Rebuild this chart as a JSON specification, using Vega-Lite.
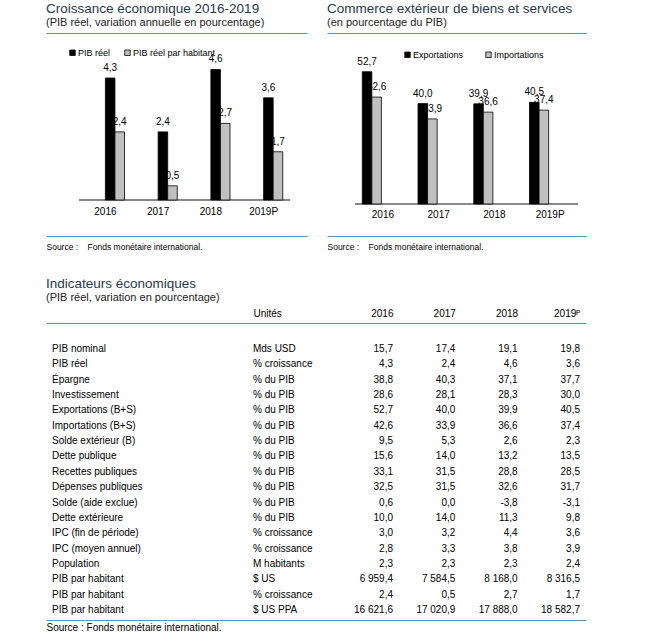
{
  "$schema": "https://vega.github.io/schema/vega-lite/v6.json",
  "padding": {"left": 46, "top": 1, "right": 0, "bottom": 0},
  "background": "white",
  "config": {
    "view": {"stroke": null},
    "font": "Liberation Sans",
    "locale": {"number": {"decimal": ",", "thousands": " ", "grouping": [3], "currency": ["", ""], "minus": "-"}},
    "title": {"font": "Liberation Sans", "fontSize": 13.5, "fontWeight": "normal", "color": "#1f3a4d", "anchor": "start", "frame": "group", "offset": 5},
    "axis": {"labelFont": "Liberation Sans", "titleFont": "Liberation Sans", "labelColor": "#000000", "titleColor": "#000000", "grid": false, "ticks": false, "domainColor": "#41A0C8", "domainWidth": 1.2, "titleFontWeight": "normal", "labelAngle": 0},
    "legend": {"labelFont": "Liberation Sans", "labelColor": "#000000"},
    "text": {"font": "Liberation Sans", "color": "#000000"}
  },
  "spacing": 25,
  "vconcat": [
    {
      "spacing": 20,
      "resolve": {"scale": {"color": "independent"}},
      "hconcat": [
        {
          "width": 261,
          "height": 203,
          "title": {"text": "Croissance économique 2016-2019", "subtitle": "(PIB réel, variation annuelle en pourcentage)", "subtitleFont": "Liberation Sans", "subtitleFontSize": 11, "subtitleColor": "#222222", "subtitlePadding": 2},
          "data": {"values": [
            {"annee": "2016", "serie": "PIB réel", "valeur": 4.3},
            {"annee": "2016", "serie": "PIB réel par habitant", "valeur": 2.4},
            {"annee": "2017", "serie": "PIB réel", "valeur": 2.4},
            {"annee": "2017", "serie": "PIB réel par habitant", "valeur": 0.5},
            {"annee": "2018", "serie": "PIB réel", "valeur": 4.6},
            {"annee": "2018", "serie": "PIB réel par habitant", "valeur": 2.7},
            {"annee": "2019P", "serie": "PIB réel", "valeur": 3.6},
            {"annee": "2019P", "serie": "PIB réel par habitant", "valeur": 1.7}
          ]},
          "layer": [
            {
              "mark": {"type": "rule", "color": "#808080", "strokeWidth": 1.5},
              "encoding": {
                "x": {"field": "annee", "type": "nominal", "bandPosition": 0, "scale": {"type": "band", "paddingInner": 0, "paddingOuter": 0.474, "align": 0.66}, "axis": {"orient": "top", "labels": false, "title": null}},
                "x2": {"field": "annee", "bandPosition": 1},
                "y": {"datum": 0, "type": "quantitative", "scale": {"domain": [-1.2689, 5.8865], "nice": false, "zero": false}, "axis": null}
              }
            },
            {
              "encoding": {
                "x": {"field": "annee", "type": "nominal", "scale": {"type": "band", "paddingInner": 0, "paddingOuter": 0.474, "align": 0.66}, "axis": {"orient": "bottom", "labelPadding": -25, "labelBaseline": "middle", "labelFontSize": 10, "title": "Source :\u00a0\u00a0\u00a0 Fonds monétaire international.", "titleFontSize": 8.5, "titleX": 0, "titleY": 10, "titleAlign": "left", "titleBaseline": "middle", "titleAnchor": "start"}},
                "xOffset": {"field": "serie", "type": "nominal", "scale": {"paddingOuter": 0.758, "paddingInner": 0}},
                "y": {"field": "valeur", "type": "quantitative", "scale": {"domain": [-1.2689, 5.8865], "nice": false, "zero": false}, "axis": null}
              },
              "layer": [
                {
                  "mark": {"type": "bar", "stroke": "#000000", "strokeWidth": 0.8},
                  "encoding": {
                    "color": {"field": "serie", "type": "nominal", "scale": {"domain": ["PIB réel", "PIB réel par habitant"], "range": ["#000000", "#C0C0C0"]},
                      "legend": {"orient": "none", "legendX": 22, "legendY": 15, "direction": "horizontal", "title": null, "symbolType": "square", "symbolSize": 30, "symbolStrokeColor": "#000000", "symbolStrokeWidth": 0.8, "labelFontSize": 9, "columnPadding": 12, "labelOffset": 1, "padding": 0}}
                  }
                },
                {
                  "mark": {"type": "text", "baseline": "bottom", "dy": -5, "fontSize": 10},
                  "encoding": {"text": {"field": "valeur", "type": "quantitative", "format": ".1f"}}
                }
              ]
            }
          ],
          "resolve": {"scale": {"x": "independent"}}
        },
        {
          "width": 260,
          "height": 203,
          "title": {"text": "Commerce extérieur de biens et services", "subtitle": "(en pourcentage du PIB)", "subtitleFont": "Liberation Sans", "subtitleFontSize": 11, "subtitleColor": "#222222", "subtitlePadding": 2},
          "data": {"values": [
            {"annee": "2016", "serie": "Exportations", "valeur": 52.7},
            {"annee": "2016", "serie": "Importations", "valeur": 42.6},
            {"annee": "2017", "serie": "Exportations", "valeur": 40.0},
            {"annee": "2017", "serie": "Importations", "valeur": 33.9},
            {"annee": "2018", "serie": "Exportations", "valeur": 39.9},
            {"annee": "2018", "serie": "Importations", "valeur": 36.6},
            {"annee": "2019P", "serie": "Exportations", "valeur": 40.5},
            {"annee": "2019P", "serie": "Importations", "valeur": 37.4}
          ]},
          "layer": [
            {
              "mark": {"type": "rule", "color": "#808080", "strokeWidth": 1.5},
              "encoding": {
                "x": {"field": "annee", "type": "nominal", "bandPosition": 0, "scale": {"type": "band", "paddingInner": 0, "paddingOuter": 0.332, "align": 0.757}, "axis": {"orient": "top", "labels": false, "title": null}},
                "x2": {"field": "annee", "bandPosition": 1},
                "y": {"datum": 0, "type": "quantitative", "scale": {"domain": [-12.749, 68.127], "nice": false, "zero": false}, "axis": null}
              }
            },
            {
              "encoding": {
                "x": {"field": "annee", "type": "nominal", "scale": {"type": "band", "paddingInner": 0, "paddingOuter": 0.332, "align": 0.757}, "axis": {"orient": "bottom", "labelPadding": -22, "labelBaseline": "middle", "labelFontSize": 10, "title": "Source :\u00a0\u00a0\u00a0 Fonds monétaire international.", "titleFontSize": 8.5, "titleX": 0, "titleY": 10, "titleAlign": "left", "titleBaseline": "middle", "titleAnchor": "start"}},
                "xOffset": {"field": "serie", "type": "nominal", "scale": {"paddingOuter": 0.742, "paddingInner": 0}},
                "y": {"field": "valeur", "type": "quantitative", "scale": {"domain": [-12.749, 68.127], "nice": false, "zero": false}, "axis": null}
              },
              "layer": [
                {
                  "mark": {"type": "bar", "stroke": "#000000", "strokeWidth": 0.8},
                  "encoding": {
                    "color": {"field": "serie", "type": "nominal", "scale": {"domain": ["Exportations", "Importations"], "range": ["#000000", "#C0C0C0"]},
                      "legend": {"orient": "none", "legendX": 76, "legendY": 17, "direction": "horizontal", "title": null, "symbolType": "square", "symbolSize": 30, "symbolStrokeColor": "#000000", "symbolStrokeWidth": 0.8, "labelFontSize": 9, "columnPadding": 20, "labelOffset": 1, "padding": 0}}
                  }
                },
                {
                  "mark": {"type": "text", "baseline": "bottom", "dy": -5, "fontSize": 10},
                  "encoding": {"text": {"field": "valeur", "type": "quantitative", "format": ".1f"}}
                }
              ]
            }
          ],
          "resolve": {"scale": {"x": "independent"}}
        }
      ]
    },
    {
      "width": 540,
      "height": 297,
      "title": {"text": "Indicateurs économiques", "subtitle": "(PIB réel, variation en pourcentage)", "subtitleFont": "Liberation Sans", "subtitleFontSize": 11, "subtitleColor": "#222222", "subtitlePadding": 2},
      "data": {"values": [
        {"rang": 1, "indicateur": "PIB nominal", "unite": "Mds USD", "2016": 15.7, "2017": 17.4, "2018": 19.1, "2019P": 19.8},
        {"rang": 2, "indicateur": "PIB réel", "unite": "% croissance", "2016": 4.3, "2017": 2.4, "2018": 4.6, "2019P": 3.6},
        {"rang": 3, "indicateur": "Épargne", "unite": "% du PIB", "2016": 38.8, "2017": 40.3, "2018": 37.1, "2019P": 37.7},
        {"rang": 4, "indicateur": "Investissement", "unite": "% du PIB", "2016": 28.6, "2017": 28.1, "2018": 28.3, "2019P": 30.0},
        {"rang": 5, "indicateur": "Exportations (B+S)", "unite": "% du PIB", "2016": 52.7, "2017": 40.0, "2018": 39.9, "2019P": 40.5},
        {"rang": 6, "indicateur": "Importations (B+S)", "unite": "% du PIB", "2016": 42.6, "2017": 33.9, "2018": 36.6, "2019P": 37.4},
        {"rang": 7, "indicateur": "Solde extérieur (B)", "unite": "% du PIB", "2016": 9.5, "2017": 5.3, "2018": 2.6, "2019P": 2.3},
        {"rang": 8, "indicateur": "Dette publique", "unite": "% du PIB", "2016": 15.6, "2017": 14.0, "2018": 13.2, "2019P": 13.5},
        {"rang": 9, "indicateur": "Recettes publiques", "unite": "% du PIB", "2016": 33.1, "2017": 31.5, "2018": 28.8, "2019P": 28.5},
        {"rang": 10, "indicateur": "Dépenses publiques", "unite": "% du PIB", "2016": 32.5, "2017": 31.5, "2018": 32.6, "2019P": 31.7},
        {"rang": 11, "indicateur": "Solde (aide exclue)", "unite": "% du PIB", "2016": 0.6, "2017": 0.0, "2018": -3.8, "2019P": -3.1},
        {"rang": 12, "indicateur": "Dette extérieure", "unite": "% du PIB", "2016": 10.0, "2017": 14.0, "2018": 11.3, "2019P": 9.8},
        {"rang": 13, "indicateur": "IPC (fin de période)", "unite": "% croissance", "2016": 3.0, "2017": 3.2, "2018": 4.4, "2019P": 3.6},
        {"rang": 14, "indicateur": "IPC (moyen annuel)", "unite": "% croissance", "2016": 2.8, "2017": 3.3, "2018": 3.8, "2019P": 3.9},
        {"rang": 15, "indicateur": "Population", "unite": "M habitants", "2016": 2.3, "2017": 2.3, "2018": 2.3, "2019P": 2.4},
        {"rang": 16, "indicateur": "PIB par habitant", "unite": "$ US", "2016": 6959.4, "2017": 7584.5, "2018": 8168.0, "2019P": 8316.5},
        {"rang": 17, "indicateur": "PIB par habitant", "unite": "% croissance", "2016": 2.4, "2017": 0.5, "2018": 2.7, "2019P": 1.7},
        {"rang": 18, "indicateur": "PIB par habitant", "unite": "$ US PPA", "2016": 16621.6, "2017": 17020.9, "2018": 17888.0, "2019P": 18582.7}
      ]},
      "layer": [
        {
          "transform": [{"fold": ["2016", "2017", "2018", "2019P"], "as": ["annee", "valeur"]}],
          "mark": {"type": "text", "align": "right", "baseline": "middle", "fontSize": 10},
          "encoding": {
            "x": {"field": "annee", "type": "ordinal", "scale": {"type": "point", "domain": ["2016", "2017", "2018", "2019P"], "padding": 0, "range": [347, 534]},
              "axis": {"orient": "top", "domain": false, "labelAlign": "right", "labelBaseline": "middle", "labelPadding": 10, "labelFontSize": 10, "labelExpr": "datum.value == '2019P' ? '2019ᴾ' : datum.value", "title": null}},
            "y": {"field": "rang", "type": "ordinal", "scale": {"type": "point", "padding": 0, "range": [26, 287]}, "axis": null},
            "text": {"field": "valeur", "type": "quantitative", "format": ",.1f"}
          }
        },
        {
          "transform": [{"fold": ["indicateur"], "as": ["colonne", "texte"]}],
          "mark": {"type": "text", "align": "left", "baseline": "middle", "fontSize": 10},
          "encoding": {
            "x": {"field": "colonne", "type": "nominal", "scale": {"type": "point", "padding": 0, "align": 0.0111},
              "axis": {"orient": "top", "labels": false, "title": "Unités", "titleX": 207, "titleY": -10, "titleAlign": "left", "titleBaseline": "middle", "titleFontSize": 10}},
            "y": {"field": "rang", "type": "ordinal", "scale": {"type": "point", "padding": 0, "range": [26, 287]}, "axis": null},
            "text": {"field": "texte", "type": "nominal"}
          }
        },
        {
          "transform": [{"fold": ["unite"], "as": ["colonne", "texte"]}],
          "mark": {"type": "text", "align": "left", "baseline": "middle", "fontSize": 10},
          "encoding": {
            "x": {"field": "colonne", "type": "nominal", "scale": {"type": "point", "padding": 0, "align": 0.3833},
              "axis": {"orient": "bottom", "labels": false, "title": "Source : Fonds monétaire international.", "titleX": 0, "titleY": 7, "titleAlign": "left", "titleBaseline": "middle", "titleFontSize": 10, "titleAnchor": "start"}},
            "y": {"field": "rang", "type": "ordinal", "scale": {"type": "point", "padding": 0, "range": [26, 287]}, "axis": null},
            "text": {"field": "texte", "type": "nominal"}
          }
        }
      ],
      "resolve": {"scale": {"x": "independent"}}
    }
  ]
}
